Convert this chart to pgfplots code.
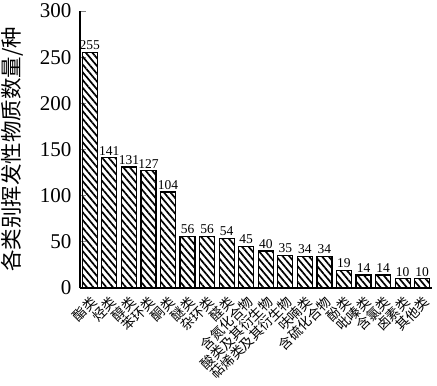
\documentclass[border=0pt]{standalone}
\usepackage{fontspec}
\setmainfont{Liberation Serif}
\newfontfamily\cjk{Noto Sans CJK SC}
\usepackage{pgfplots}
\pgfplotsset{compat=1.18}
\usetikzlibrary{patterns.meta}
\begin{document}
\begin{tikzpicture}
\path[use as bounding box] (-80pt,-98pt) rectangle (357pt,288pt);
\begin{axis}[
  scale only axis,
  width=352pt, height=277pt,
  xmin=-0.5, xmax=17.5,
  ymin=0, ymax=300,
  axis lines=left,
  axis line style={-, line width=1.2pt},
  ytick={0,50,...,300},
  tick align=inside,
  major tick length=6pt,
  ytick style={line width=1pt},
  xtick=data,
  xtick style={draw=none},
  xticklabels={酯类,烃类,醇类,苯环类,酮类,醚类,杂环类,醛类,含氮化合物,酸类及其衍生物,萜烯类及其衍生物,呋喃类,含硫化合物,酚类,吡嗪类,含氯类,卤素类,其他类},
  xticklabel style={rotate=45, anchor=north east, font=\cjk\fontsize{13.5}{14}\selectfont, inner sep=0pt},
  xticklabel shift=7pt,
  yticklabel style={font=\fontsize{21}{24}\selectfont, xshift=-5pt},
  /pgf/number format/assume math mode=true,
  ylabel={各类别挥发性物质数量/种},
  ylabel style={at={(axis description cs:-0.193,0.5)}, anchor=center, font=\cjk\fontsize{21.5}{24}\selectfont},
  nodes near coords,
  nodes near coords style={font=\fontsize{13.5}{14}\selectfont, inner sep=2pt},
]
\addplot[ybar, bar width=15pt, draw=black, line width=1.2pt,
  pattern={Lines[angle=-50, distance=5pt, line width=1.7pt]}, pattern color=black]
coordinates {(0,255) (1,141) (2,131) (3,127) (4,104) (5,56) (6,56) (7,54) (8,45) (9,40) (10,35) (11,34) (12,34) (13,19) (14,14) (15,14) (16,10) (17,10)};
\end{axis}
\end{tikzpicture}
\end{document}
